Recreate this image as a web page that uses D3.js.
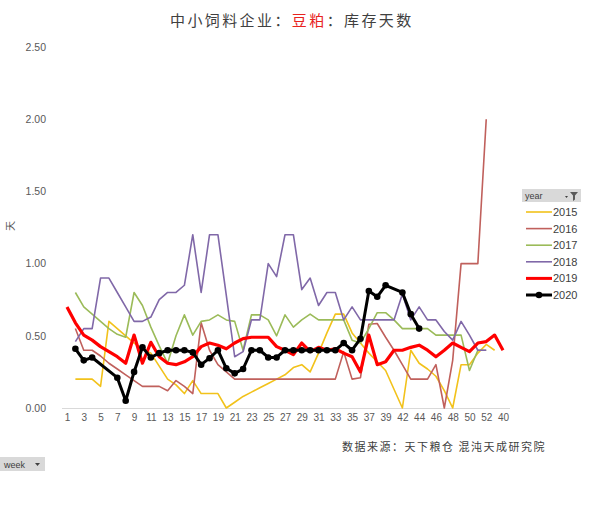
<!DOCTYPE html>
<html><head><meta charset="utf-8">
<script src="https://cdn.jsdelivr.net/npm/d3@7/dist/d3.min.js"></script>
<style>
body{margin:0;background:#fff;}
svg text{font-family:"Liberation Sans","Noto Sans CJK SC",sans-serif;}
</style></head>
<body><svg id="c" width="609" height="519"></svg>
<script>
const weeks = ["1","2","3","4","5","6","7","8","9","10","11","12","13","14","15","16","17","18","19","20",
"21","22","23","24","25","26","27","28","29","30","31","32","33","34","35","36","37","38","39",
"41","42","43","44","45","46","47","48","49","50","51","52","53","40"];
const years = ["2015","2016","2017","2018","2019","2020"];
const y2015 = [null,0.20,0.20,0.20,0.15,0.60,0.55,0.50,0.45,0.41,0.38,0.29,0.20,0.16,0.10,0.19,0.10,0.10,0.10,0.00,
0.04,0.08,0.11,0.14,0.17,0.20,0.23,0.28,0.30,0.25,0.38,0.52,0.65,0.65,0.52,0.45,0.38,0.32,0.26,0.13,
0.00,0.40,0.31,0.27,0.22,0.12,0.00,0.30,0.30,0.38,0.44,0.40,null];
const y2016 = [null,0.55,0.40,0.40,0.36,0.31,0.27,0.23,0.19,0.15,0.15,0.15,0.12,0.19,0.15,0.10,0.59,0.40,0.30,0.25,
0.20,0.20,0.20,0.20,0.20,0.20,0.20,0.20,0.20,0.20,0.20,0.20,0.20,0.39,0.20,0.21,0.58,0.585,0.49,0.40,
0.30,0.20,0.20,0.20,0.30,0.00,0.33,1.00,1.00,1.00,2.00,null,null];
const y2017 = [null,0.80,0.70,0.65,0.60,0.55,0.51,0.49,0.80,0.71,0.56,0.43,0.31,0.50,0.645,0.505,0.60,0.61,0.645,0.61,
0.60,0.40,0.645,0.645,0.61,0.50,0.645,0.56,0.61,0.65,0.61,0.61,0.61,0.61,0.47,0.45,0.55,0.66,0.66,0.61,
0.55,0.55,0.55,0.55,0.505,0.505,0.505,0.505,0.26,0.40,0.40,null,null];
const y2018 = [null,0.46,0.55,0.55,0.90,0.90,0.80,0.70,0.60,0.60,0.63,0.75,0.80,0.80,0.85,1.20,0.80,1.20,1.20,0.78,
0.355,0.39,0.61,0.61,1.00,0.91,1.20,1.20,0.82,0.90,0.71,0.80,0.80,0.61,0.70,0.61,0.61,0.61,0.61,0.61,
0.79,0.61,0.70,0.61,0.61,0.53,0.47,0.60,0.505,0.40,0.40,null,null];
const y2019 = [0.70,0.59,0.505,0.47,0.425,0.39,0.355,0.31,0.505,0.31,0.455,0.355,0.31,0.30,0.32,0.355,0.425,0.45,0.435,0.41,
0.45,0.48,0.49,0.49,0.49,0.425,0.40,0.37,0.45,0.39,0.42,0.40,0.41,0.38,0.355,0.25,0.505,0.30,0.32,0.40,
0.40,0.42,0.435,0.40,0.355,0.40,0.45,0.42,0.39,0.45,0.46,0.505,0.40];
const y2020 = [null,0.41,0.33,0.35,null,null,0.21,0.05,0.25,0.42,0.35,0.38,0.40,0.40,0.40,0.385,0.30,0.345,0.40,0.275,
0.24,0.27,0.40,0.40,0.35,0.35,0.40,0.40,0.40,0.40,0.40,0.40,0.40,0.45,0.40,0.48,0.81,0.77,0.85,null,
0.80,0.65,0.55,null,null,null,null,null,null,null,null,null,null];
const yTicks = [0,0.5,1,1.5,2,2.5];

const seriesVals = [y2015,y2016,y2017,y2018,y2019,y2020];
const colors = ["#F2C21B","#C0605C","#9BBB59","#8068A8","#FF0000","#000000"];
const widths = [1.6,1.6,1.6,1.6,3.2,3.0];

const svg = d3.select("#c");
const x = d3.scalePoint().domain(weeks).range([67,503]);
const y = d3.scaleLinear().domain([0,2.5]).range([408,47]);

// title
const t = svg.append("text").attr("x",170).attr("y",26).attr("font-size",15)
  .attr("letter-spacing",2.4).attr("fill","#404040")
  .style("font-family","'Noto Sans CJK SC',sans-serif");
t.append("tspan").text("中小饲料企业：");
t.append("tspan").attr("fill","#E8231E").text("豆粕");
t.append("tspan").text("：库存天数");

// y axis
const ya = svg.append("g").attr("transform","translate(50,0)")
  .call(d3.axisLeft(y).tickValues(yTicks).tickFormat(d3.format(".2f")).tickSize(0).tickPadding(4));
ya.select(".domain").remove();
ya.selectAll("text").attr("font-size",10.5).attr("fill","#595959");

svg.append("text").attr("transform","translate(14,226) rotate(-90)")
  .attr("text-anchor","middle").attr("font-size",10).attr("fill","#595959")
  .style("font-family","'Noto Sans CJK SC',sans-serif").text("天");

// x axis
const xa = svg.append("g").attr("transform","translate(0,408)")
  .call(d3.axisBottom(x).tickValues(weeks.filter((d,i)=>i%2===0)).tickSize(0).tickPadding(6));
xa.select(".domain").attr("d","M62,0.5H510").attr("stroke","#D9D9D9").attr("stroke-width",1.2);
xa.selectAll("text").attr("font-size",10).attr("fill","#595959");

// lines
seriesVals.forEach((vals,k)=>{
  const pts = vals.map((v,i)=>({w:weeks[i],v})).filter(p=>p.v!==null);
  const line = d3.line().x(p=>x(p.w)).y(p=>y(p.v));
  svg.append("path").datum(pts).attr("d",line).attr("fill","none")
    .attr("stroke",colors[k]).attr("stroke-width",widths[k]).attr("stroke-linejoin","round");
  if(k===5){
    svg.selectAll(".dot").data(pts).enter().append("circle")
      .attr("cx",p=>x(p.w)).attr("cy",p=>y(p.v)).attr("r",3.3).attr("fill","#000");
  }
});

// legend
const lg = svg.append("g");
lg.append("rect").attr("x",522).attr("y",189).attr("width",59).attr("height",13).attr("fill","#D9D9D9");
lg.append("text").attr("x",525).attr("y",199).attr("font-size",9).attr("fill","#404040").text("year");
lg.append("path").attr("d","M565,196l3,0l-1.5,2z").attr("fill","#404040");
lg.append("path").attr("d","M570,192h8l-3,3.5v4l-2,1.5v-5.5z").attr("fill","#595959");
years.forEach((yr,k)=>{
  const yy = 212 + k*16.6;
  lg.append("line").attr("x1",526).attr("x2",552).attr("y1",yy).attr("y2",yy)
    .attr("stroke",colors[k]).attr("stroke-width",k>=4?3:1.6);
  if(k===5) lg.append("circle").attr("cx",539).attr("cy",yy).attr("r",3.3).attr("fill","#000");
  lg.append("text").attr("x",553).attr("y",yy+4).attr("font-size",11).attr("fill","#404040").text(yr);
});

// source
svg.append("text").attr("x",342).attr("y",451).attr("font-size",11).attr("letter-spacing",1.5)
  .attr("fill","#404040").style("font-family","'Noto Sans CJK SC',sans-serif")
  .text("数据来源：天下粮仓 混沌天成研究院");

// week button
svg.append("rect").attr("x",0).attr("y",457).attr("width",45).attr("height",14).attr("fill","#D9D9D9");
svg.append("text").attr("x",4).attr("y",467.5).attr("font-size",9).attr("fill","#404040").text("week");
svg.append("path").attr("d","M35,463h5l-2.5,3z").attr("fill","#404040");
</script></body></html>
